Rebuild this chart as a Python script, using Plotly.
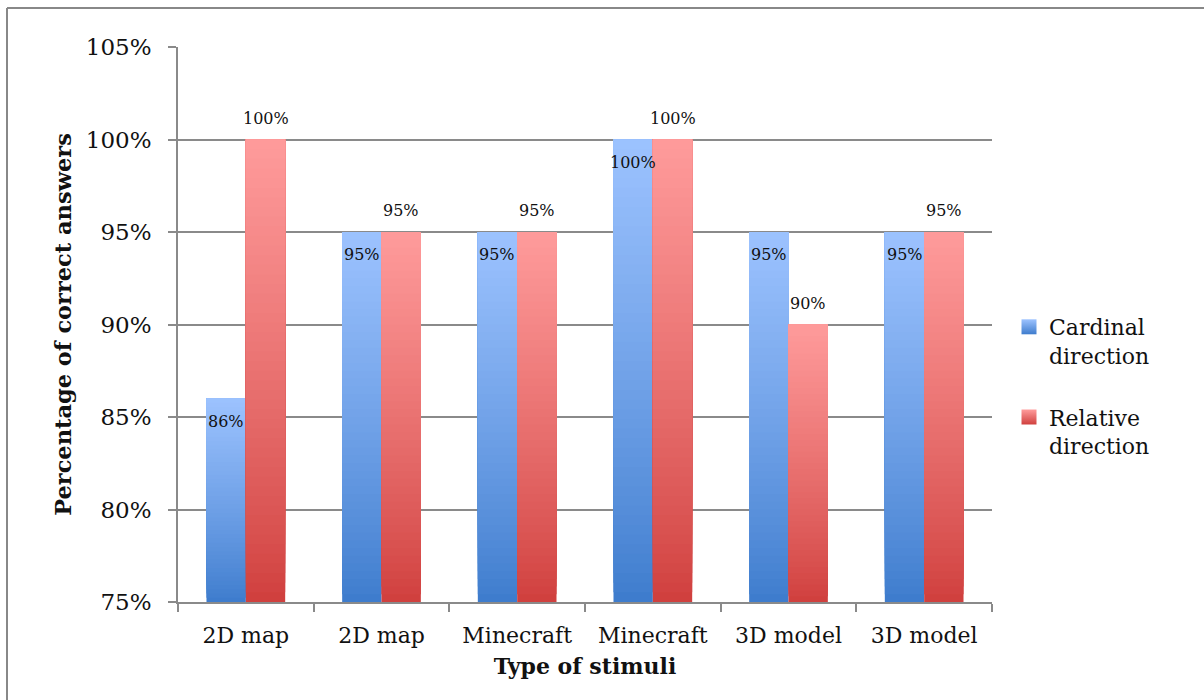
import plotly.graph_objects as go

# Chart data
categories = ["2D map", "2D map", "Minecraft", "Minecraft", "3D model", "3D model"]
cardinal = [86, 95, 95, 100, 95, 95]
relative = [100, 95, 95, 100, 90, 95]
series_names = ["Cardinal<br>direction", "Relative<br>direction"]
y_ticks = [75, 80, 85, 90, 95, 100, 105]

Y_MIN, Y_MAX = 75, 105
FONT = "DejaVu Serif"
GRID = "#8a8a8a"

# Gradient end colours (top light, bottom dark)
blue_top, blue_bottom = (157, 195, 255), (62, 124, 205)
red_top, red_bottom = (255, 156, 156), (208, 64, 62)

W, H = 1204, 700
margin = dict(l=178, r=212, t=47, b=98)
plot_w = W - margin["l"] - margin["r"]
plot_h = H - margin["t"] - margin["b"]

BARGAP = 0.42
N_STEPS = 48
positions = list(range(len(categories)))


def mix(c_top, c_bottom, t):
    """t=0 -> bottom colour, t=1 -> top colour."""
    r, g, b = (round(cb + (ct - cb) * t) for ct, cb in zip(c_top, c_bottom))
    return f"rgb({r},{g},{b})"


fig = go.Figure()

# Each bar is drawn as a stack of overlapping layers (each layer runs from its
# own base up to the bar's top), giving a vertical gradient inside every bar.
for values, group, c_top, c_bottom in [
    (cardinal, "card", blue_top, blue_bottom),
    (relative, "rel", red_top, red_bottom),
]:
    for k in range(N_STEPS):
        frac = k / N_STEPS
        bases = [Y_MIN + (v - Y_MIN) * frac for v in values]
        heights = [v - b for v, b in zip(values, bases)]
        fig.add_trace(go.Bar(
            x=positions, y=heights, base=bases,
            offsetgroup=group,
            marker=dict(color=mix(c_top, c_bottom, frac ** 0.85), line=dict(width=0)),
            showlegend=False, hoverinfo="skip",
        ))

# Legend entries with gradient squares
for name, c_top, c_bottom in [
    (series_names[0], blue_top, blue_bottom),
    (series_names[1], red_top, red_bottom),
]:
    fig.add_trace(go.Scatter(
        x=[None], y=[None], mode="markers", name=name, legendgroup=name,
        marker=dict(symbol="square", size=15, color=mix(c_top, c_bottom, 1),
                    gradient=dict(type="vertical", color=mix(c_top, c_bottom, 0)),
                    line=dict(width=0)),
    ))

# Carrier trace for the category-label axis
fig.add_trace(go.Scatter(x=positions, y=[None] * len(positions), xaxis="x2",
                         showlegend=False, hoverinfo="skip"))

# Value labels: cardinal inside the bar top, relative above the bar
half = (1 - BARGAP) / 4
annotations = []
for i, (c, r) in enumerate(zip(cardinal, relative)):
    annotations.append(dict(
        x=positions[i] - half, y=c, xref="x", yref="y", text=f"{c}%",
        showarrow=False, yanchor="top", yshift=-11,
        font=dict(family=FONT, size=16, color="#111"),
    ))
    annotations.append(dict(
        x=positions[i] + half, y=r, xref="x", yref="y", text=f"{r}%",
        showarrow=False, yanchor="bottom", yshift=10,
        font=dict(family=FONT, size=16, color="#111"),
    ))

# Outer frame (top and left edges)
fx = (7 - margin["l"]) / plot_w
fy = (H - margin["b"] - 8) / plot_h
shapes = [
    dict(type="line", xref="paper", yref="paper", x0=fx, x1=(W + 5 - margin["l"]) / plot_w,
         y0=fy, y1=fy, line=dict(color="#888", width=2)),
    dict(type="line", xref="paper", yref="paper", x0=fx, x1=fx,
         y0=fy, y1=-(margin["b"] + 5) / plot_h, line=dict(color="#888", width=2)),
]

x_range = [-0.5, len(categories) - 0.5]
boundaries = [p - 0.5 for p in positions] + [positions[-1] + 0.5]

fig.update_layout(
    width=W, height=H, margin=margin,
    paper_bgcolor="white", plot_bgcolor="white",
    barmode="group", bargap=BARGAP, bargroupgap=0,
    font=dict(family=FONT, color="#111"),
    xaxis=dict(
        range=x_range, tickmode="array", tickvals=boundaries,
        ticktext=[""] * len(boundaries), ticks="outside", ticklen=8,
        tickcolor=GRID, tickwidth=1.6, showgrid=False, zeroline=False,
        showline=True, linecolor=GRID, linewidth=1.6,
    ),
    xaxis2=dict(
        overlaying="x", anchor="y", side="bottom", range=x_range,
        tickmode="array", tickvals=positions, ticktext=categories,
        ticks="", showgrid=False, zeroline=False, showline=False,
        tickfont=dict(family=FONT, size=22, color="#111"),
        ticklabelstandoff=18,
        title=dict(text="<b>Type of stimuli</b>", standoff=11,
                   font=dict(family=FONT, size=22, color="#111")),
    ),
    yaxis=dict(
        range=[Y_MIN, Y_MAX], tickmode="array", tickvals=y_ticks,
        ticktext=[f"{v}%" for v in y_ticks],
        ticks="outside", ticklen=8, tickcolor=GRID, tickwidth=1.6,
        showgrid=True, gridcolor=GRID, gridwidth=1.6, zeroline=False,
        showline=True, linecolor=GRID, linewidth=1.6,
        tickfont=dict(family=FONT, size=23, color="#111"),
        ticklabelstandoff=12,
        title=dict(text="<b>Percentage of correct answers</b>", standoff=8,
                   font=dict(family=FONT, size=22.5, color="#111")),
    ),
    legend=dict(
        x=(1009 - margin["l"]) / plot_w, xanchor="left",
        y=(H - margin["b"] - 306) / plot_h, yanchor="top",
        font=dict(family=FONT, size=22, color="#111"),
        valign="top", traceorder="grouped", tracegroupgap=30,
        bgcolor="rgba(0,0,0,0)",
    ),
    annotations=annotations,
    shapes=shapes,
)

fig.write_html("out.html")
